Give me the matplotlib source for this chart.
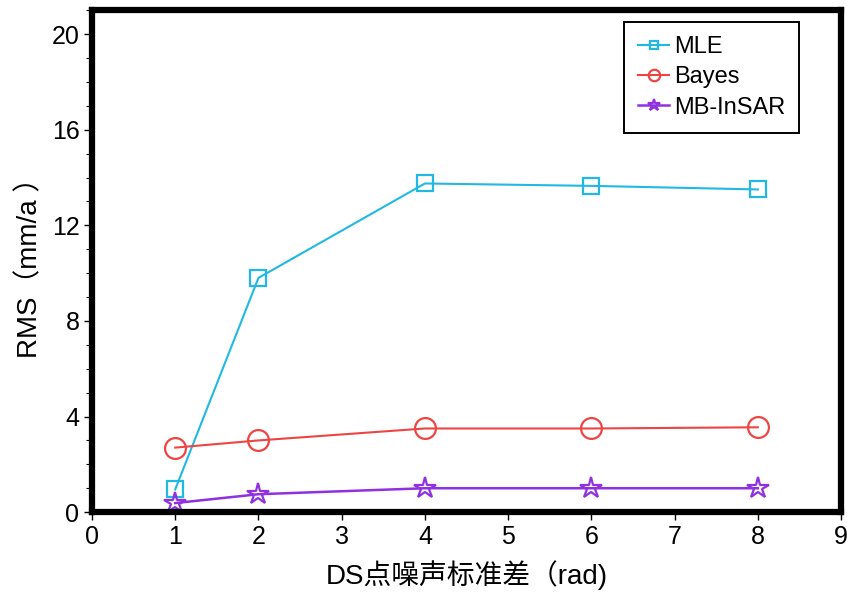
import numpy as np
import matplotlib.pyplot as plt
from matplotlib import ticker

plt.rcParams['font.family'] = ['Liberation Sans', 'Noto Sans CJK SC', 'DejaVu Sans']

# data
noise_std = [1, 2, 4, 6, 8]
rms_mle   = [0.95, 9.8, 13.75, 13.65, 13.5]
rms_bayes = [2.7, 3.0, 3.5, 3.5, 3.55]
rms_mb    = [0.38, 0.75, 1.0, 1.0, 1.0]

fig = plt.figure(figsize=(8.47, 5.99), dpi=100)
ax = fig.add_axes([0.1086, 0.145, 0.8844, 0.838])

ax.plot(noise_std, rms_mle, color='#22b8e4', lw=1.5, marker='s', ms=11,
        mfc='none', mew=1.6, label='MLE')
ax.plot(noise_std, rms_bayes, color='#ee4444', lw=1.5, marker='o', ms=15,
        mfc='none', mew=1.6, label='Bayes')
ax.plot(noise_std, rms_mb, color='#9030e0', lw=1.8, marker='*', ms=16,
        mfc='none', mew=1.6, label='MB-InSAR')

ax.set_xlim(0, 9)
ax.set_ylim(0, 21)
ax.xaxis.set_major_locator(ticker.MultipleLocator(1))
ax.yaxis.set_major_locator(ticker.MultipleLocator(4))
ax.yaxis.set_minor_locator(ticker.MultipleLocator(1))
ax.tick_params(which='major', direction='out', length=6, width=1, labelsize=18, pad=3)
ax.tick_params(which='minor', direction='out', length=4, width=0.8)
ax.tick_params(top=False, right=False)

for s in ax.spines.values():
    s.set_linewidth(4.5)

ax.set_xlabel('DS点噪声标准差（rad)', fontsize=20, labelpad=8)
ax.set_ylabel('RMS（mm/a ）', fontsize=20, labelpad=6)

leg = ax.legend(loc='upper right', bbox_to_anchor=(0.96, 1.0), fontsize=17,
                handlelength=1.3, handletextpad=0.2, labelspacing=0.35,
                borderpad=0.6, fancybox=False, framealpha=1, markerscale=0.55)
leg.get_frame().set_edgecolor('black')
leg.get_frame().set_linewidth(1.4)

fig.savefig('out.png', dpi=100)
plt.close()
